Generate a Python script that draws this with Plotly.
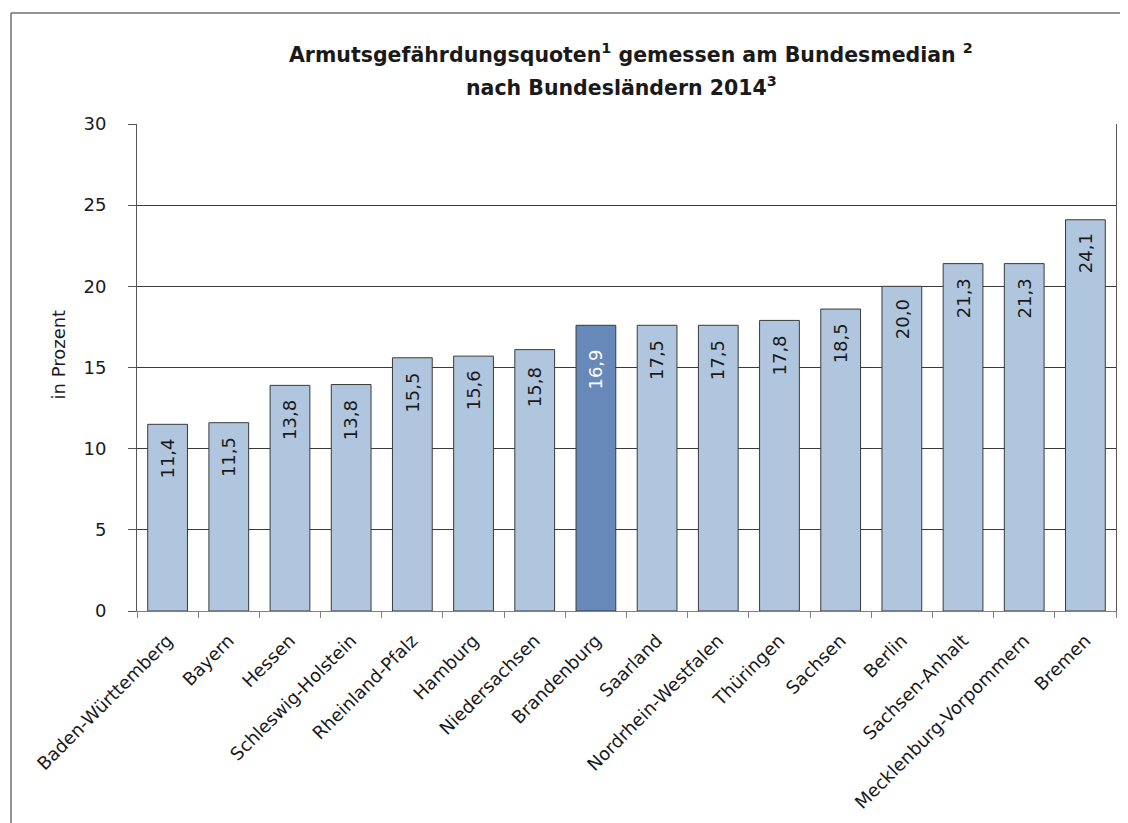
import plotly.graph_objects as go

# ---- data ----
laender = ["Baden-Württemberg", "Bayern", "Hessen", "Schleswig-Holstein", "Rheinland-Pfalz",
           "Hamburg", "Niedersachsen", "Brandenburg", "Saarland", "Nordrhein-Westfalen",
           "Thüringen", "Sachsen", "Berlin", "Sachsen-Anhalt", "Mecklenburg-Vorpommern", "Bremen"]
bar_heights = [11.5, 11.6, 13.9, 13.95, 15.6, 15.7, 16.1, 17.6, 17.6, 17.6,
               17.9, 18.6, 20.0, 21.4, 21.4, 24.1]
value_labels = ["11,4", "11,5", "13,8", "13,8", "15,5", "15,6", "15,8", "16,9", "17,5", "17,5",
                "17,8", "18,5", "20,0", "21,3", "21,3", "24,1"]
y_ticks = [0, 5, 10, 15, 20, 25, 30]
highlight = "Brandenburg"

FONT = "DejaVu Sans"
OFF = 8  # default page margin of the html body
W, H = 1120, 815
L, R, T, B = 129, 12, 116, 212
PW, PH = W - L - R, H - T - B


def px_x(p):  # screen pixel -> paper x
    return (p - OFF - L) / PW


def px_y(p):  # screen pixel -> paper y
    return (H - B - (p - OFF)) / PH


light, dark = "#B0C6DE", "#6789B9"
colors = [dark if c == highlight else light for c in laender]

fig = go.Figure()
fig.add_trace(go.Bar(
    x=laender, y=bar_heights,
    marker=dict(color=colors, line=dict(color="#3a3a3a", width=1)),
    hoverinfo="skip", showlegend=False,
))

annotations = []
for name, lab in zip(laender, value_labels):
    annotations.append(dict(
        x=name, y=float(lab.replace(",", ".")), xref="x", yref="y",
        text=lab, textangle=-90, showarrow=False,
        xanchor="center", yanchor="top", yshift=-11,
        font=dict(family=FONT, size=18, color="#FFFFFF" if name == highlight else "#1a1a1a"),
    ))

# title (two lines)
annotations.append(dict(
    text="<b>Armutsgefährdungsquoten<sup>1</sup> gemessen am Bundesmedian <sup>2</sup></b>",
    x=px_x(631), y=px_y(54), xref="paper", yref="paper", xanchor="center", yanchor="middle",
    showarrow=False, font=dict(family=FONT, size=20.5, color="#1a1a1a"),
))
annotations.append(dict(
    text="<b>nach Bundesländern 2014<sup>3</sup></b>",
    x=px_x(621.5), y=px_y(86), xref="paper", yref="paper", xanchor="center", yanchor="middle",
    showarrow=False, font=dict(family=FONT, size=20.5, color="#1a1a1a"),
))
# y axis title
annotations.append(dict(
    text="in Prozent", textangle=-90,
    x=px_x(57.5), y=px_y(355), xref="paper", yref="paper", xanchor="center", yanchor="middle",
    showarrow=False, font=dict(family=FONT, size=18, color="#1a1a1a"),
))

frame = dict(color="#707070", width=1.5)
fig.update_layout(
    width=W, height=H,
    margin=dict(l=L, r=R, t=T, b=B, autoexpand=False),
    paper_bgcolor="white", plot_bgcolor="white",
    bargap=0.35,
    annotations=annotations,
    shapes=[
        dict(type="line", xref="paper", yref="paper",
             x0=px_x(11), x1=px_x(1140), y0=px_y(13), y1=px_y(13), line=frame, layer="below"),
        dict(type="line", xref="paper", yref="paper",
             x0=px_x(11), x1=px_x(11), y0=px_y(13), y1=px_y(840), line=frame, layer="below"),
    ],
    font=dict(family=FONT, color="#1a1a1a"),
)
fig.update_xaxes(
    type="category", tickangle=-45, tickson="boundaries",
    ticks="outside", ticklen=6, tickcolor="#808080", tickwidth=1,
    showline=True, linecolor="#808080", linewidth=1, mirror=False,
    showgrid=False, tickfont=dict(family=FONT, size=18, color="#1a1a1a"),
    ticklabelstandoff=11,
)
fig.update_yaxes(
    range=[0, 30], tickvals=y_ticks, ticktext=[str(v) for v in y_ticks],
    ticks="outside", ticklen=8, tickcolor="#555555", tickwidth=1,
    showline=True, linecolor="#555555", linewidth=1, mirror=True,
    showgrid=True, gridcolor="#3a3a3a", gridwidth=1, zeroline=False,
    tickfont=dict(family=FONT, size=18, color="#1a1a1a"),
    ticklabelstandoff=18,
)

fig.write_html("out.html")
